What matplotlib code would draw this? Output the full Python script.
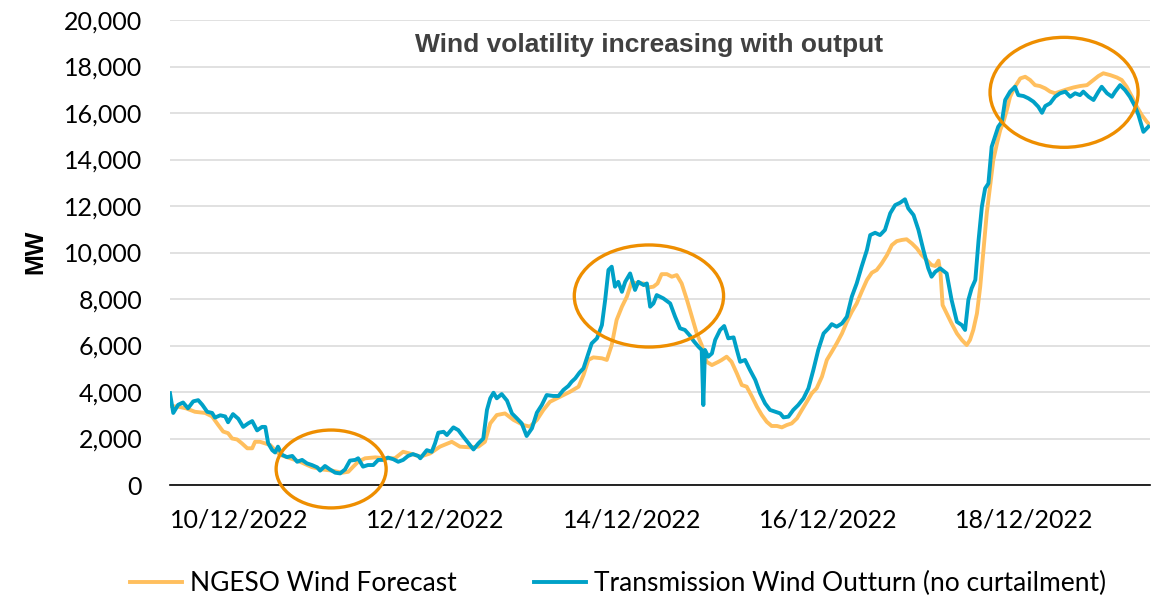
"""Wind forecast vs transmission outturn, 10-19 Dec 2022."""

import matplotlib

matplotlib.use("Agg")
import matplotlib.dates as mdates  # noqa: E402
import matplotlib.pyplot as plt  # noqa: E402
import pandas as pd  # noqa: E402
from matplotlib.patches import Ellipse  # noqa: E402
from matplotlib.ticker import FuncFormatter, MultipleLocator  # noqa: E402

BASE = pd.Timestamp("2022-12-10")

# hours relative to 10/12/2022 00:00, values in MW
FC_HOURS = [
    -16.9, -14.9, -13.0, -10.8, -8.3, -6.6, -5.1, -3.9, -2.7, -1.7, -0.5, 0.7,
    2.0, 3.2, 3.9, 5.1, 6.4, 7.6, 8.8, 10.0, 12.5, 14.9, 17.8, 20.3, 22.7,
    25.2, 26.7, 27.9, 29.1, 30.8, 33.3, 35.7, 38.1, 40.1, 42.3, 44.3, 46.7,
    49.1, 52.0, 54.0, 56.5, 58.5, 60.1, 61.4, 63.0, 65.0, 67.1, 69.5, 71.1,
    72.8, 74.4, 76.0, 78.5, 80.9, 83.0, 84.2, 85.4, 86.6, 88.7, 89.9, 91.1,
    92.3, 93.6, 94.8, 96.0, 97.2, 98.9, 100.1, 101.3, 102.3, 103.3, 104.6,
    105.8, 107.0, 108.2, 109.5, 110.7, 111.9, 113.1, 114.3, 115.6, 117.2,
    118.0, 119.2, 120.4, 121.7, 122.9, 124.1, 125.4, 126.6, 127.8, 129.0,
    130.2, 131.5, 132.7, 133.9, 135.1, 136.4, 137.6, 138.8, 140.0, 141.2,
    142.5, 143.7, 144.9, 146.1, 147.4, 148.6, 149.8, 151.0, 152.2, 153.5,
    154.7, 155.9, 157.1, 158.4, 159.6, 160.8, 162.0, 163.2, 164.5, 165.7,
    166.9, 168.1, 169.3, 170.2, 171.0, 171.5, 172.0, 173.0, 174.2, 175.5,
    176.7, 177.9, 178.7, 179.5, 180.4, 181.2, 182.0, 182.8, 183.6, 184.4,
    185.3, 186.1, 186.9, 187.7, 188.5, 189.7, 191.0, 192.2, 193.4, 194.6,
    195.8, 197.1, 198.3, 199.5, 200.7, 202.4, 204.0, 205.6, 207.3, 208.9,
    210.1, 211.3, 213.0, 214.6, 215.8, 217.0, 218.3, 219.5, 220.7, 221.9,
    222.7,
]
FC_MW = [
    3400, 3370, 3300, 3150, 3100, 2950, 2580, 2300, 2230, 2000, 1960, 1790,
    1580, 1580, 1860, 1860, 1790, 1720, 1500, 1300, 1150, 1000, 770, 670, 620,
    530, 570, 790, 1000, 1150, 1190, 1150, 1150, 1430, 1330, 1220, 1360,
    1650, 1860, 1650, 1620, 1650, 1860, 2650, 3010, 3080, 2800, 2580, 2510,
    2800, 3230, 3580, 3800, 4010, 4230, 4730, 5380, 5490, 5450, 5380, 6020,
    7100, 7670, 8100, 8740, 8670, 8670, 8500, 8530, 8670, 9070, 9070,
    8960, 9030, 8670, 7960, 7240, 6520, 6020, 5300, 5160, 5300,
    5380, 5520, 5300, 4800, 4300, 4230, 3800, 3370, 3010, 2720,
    2540, 2540, 2480, 2580, 2650, 2870, 3230, 3580, 3940, 4160,
    4660, 5380, 5730, 6090, 6520, 7020, 7450, 7810, 8310, 8820,
    9130, 9250, 9530, 9890, 10320, 10490, 10540, 10570, 10390, 10180,
    9890, 9680, 9460, 9420, 9650, 9100, 7740, 7380, 6950, 6520,
    6240, 6020, 6240, 6670, 7380, 8530, 10110, 11690, 12830, 13980,
    14700, 15270, 15630, 16130, 16700, 17130, 17490, 17560, 17420, 17200,
    17160, 17060, 16920, 16850, 16920, 17020, 17100, 17160, 17200, 17420,
    17590, 17710, 17630, 17530, 17420, 17130, 16700, 16270, 15910, 15630,
    15480,
]

OUT_HOURS = [
    -16.9, -16.1, -14.9, -13.7, -12.5, -11.2, -10.0, -9.0, -7.8, -6.6, -5.9,
    -4.6, -3.4, -2.7, -1.5, -0.2, 1.0, 2.2, 3.2, 4.4, 5.6, 6.4, 7.1, 8.1, 8.8,
    9.5, 10.5, 11.7, 13.0, 14.2, 15.4, 16.6, 17.8, 19.1, 19.8, 21.0, 22.2,
    23.5, 24.7, 25.9, 27.1, 28.4, 29.1, 30.3, 31.5, 32.8, 34.0, 35.2, 36.4,
    37.7, 38.9, 40.1, 41.3, 42.5, 43.8, 44.3, 45.9, 47.1, 47.9, 48.7, 50.0,
    50.8, 52.4, 53.6, 54.8, 56.1, 57.3, 58.5, 59.7, 60.6, 61.4, 62.2, 63.0,
    64.2, 65.5, 66.7, 67.9, 69.1, 70.3, 71.6, 72.8, 74.0, 75.2, 76.8, 78.1,
    79.3, 80.5, 81.3, 82.2, 83.2, 84.2, 85.4, 86.2, 87.5, 88.7, 89.5, 90.3,
    91.1, 91.9, 92.7, 93.6, 94.4, 95.6, 96.8, 97.6, 98.9, 99.7, 100.5, 101.3,
    102.1, 103.7, 105.4, 106.6, 107.8, 109.0, 110.3, 111.1, 112.3, 113.1,
    113.5, 113.9, 114.7, 115.6, 116.4, 117.6, 118.6, 119.6, 120.9, 121.7,
    122.5, 123.7, 124.9, 126.2, 127.4, 128.6, 129.8, 131.1, 132.3, 133.1,
    134.3, 135.5, 136.7, 138.0, 139.2, 140.4, 141.6, 142.9, 144.1, 144.9,
    146.1, 147.4, 148.6, 149.8, 151.0, 152.2, 153.5, 154.3, 155.5, 156.7,
    157.9, 159.2, 160.4, 161.6, 162.8, 163.6, 164.9, 166.1, 167.3, 168.5,
    169.3, 170.2, 171.4, 173.0, 174.2, 175.5, 176.7, 177.5, 178.3, 179.1,
    180.0, 180.8, 181.6, 182.4, 183.2, 184.0, 184.8, 185.6, 186.5, 187.3,
    188.5, 189.7, 190.5, 191.8, 193.0, 194.2, 195.4, 196.3, 197.1, 198.3,
    199.5, 200.7, 202.0, 203.2, 204.4, 205.6, 206.4, 207.7, 208.9, 210.1,
    210.9, 212.2, 213.4, 214.2, 215.4, 216.6, 217.8, 219.1, 219.9, 221.1,
    222.3,
]
OUT_MW = [
    3950, 3100, 3450, 3550, 3300, 3600, 3650, 3450, 3150, 3100, 2900,
    3000, 2950, 2700, 3050, 2850, 2500, 2650, 2750, 2350, 2500, 2500, 1800,
    1500, 1400, 1650, 1300, 1200, 1250, 1000, 1080, 930, 860, 760, 620, 820,
    670, 530, 500, 670, 1050, 1080, 1150, 790, 860, 860, 1080, 1080, 1180,
    1110, 1000, 1080, 1250, 1330, 1250, 1150, 1500, 1430, 1790, 2250, 2290,
    2150, 2480, 2360, 2080, 1790, 1530, 1790, 2000, 3230, 3730, 3970, 3730,
    3910, 3630, 3080, 2870, 2650, 2110, 2440, 3110, 3440, 3870, 3830, 3830,
    4090, 4260, 4440, 4590, 4830, 5020, 5660, 6090, 6310, 6880, 7960, 9250,
    9390, 8530, 8740, 8310, 8740, 9100, 8390, 8740, 8600, 8670, 7670, 7810,
    8170, 8030, 7810, 7240, 6740, 6670, 6410, 6200, 5950, 5810,
    3440, 5810, 5520, 5660, 6240, 6670, 6840, 6310, 6350, 5810,
    5300, 5380, 4950, 4520, 3940, 3510, 3230, 3150, 3080, 2910,
    2940, 3230, 3440, 3730, 4160, 4950, 5810, 6520, 6740, 6920,
    6810, 6950, 7240, 8100, 8670, 9390, 10110, 10750, 10850, 10750,
    10970, 11690, 12040, 12140, 12290, 11900, 11610, 10970, 10110, 9320,
    8960, 9170, 9320, 9100, 7960, 7020, 6880, 6670, 7960, 8460,
    8820, 10540, 11970, 12760, 12970, 14550, 14980, 15410, 15630, 16560,
    16920, 17130, 16770, 16730, 16630, 16490, 16270, 16010, 16300, 16420,
    16700, 16850, 16920, 16700, 16850, 16770, 16920, 16700, 16560, 16920,
    17130, 16850, 16700, 16920, 17200, 16990, 16700, 16270, 15910, 15190,
    15410,
]

# highlighted periods: centre hour, centre MW, width in hours, height in MW
HIGHLIGHTS = [
    (22.5, 690, 26.9, 3350),
    (100.2, 8130, 36.5, 4390),
    (201.7, 16890, 36.2, 4730),
]

TICK_DAYS = ["2022-12-10", "2022-12-12", "2022-12-14", "2022-12-16", "2022-12-18"]
X_RANGE_HOURS = (-16.9, 222.7)

FC_COLOR = "#FFBF5E"
OUT_COLOR = "#00A1C7"
RING_COLOR = "#EE8E00"


def to_dates(hours):
    return BASE + pd.to_timedelta(hours, unit="h")


def main():
    fig = plt.figure(figsize=(11.54, 5.96), dpi=100)
    ax = fig.add_axes([0.1473, 0.1862, 0.8492, 0.7802])

    ax.plot(to_dates(FC_HOURS), FC_MW, color=FC_COLOR, lw=2.8,
            label="NGESO Wind Forecast", solid_joinstyle="round")
    ax.plot(to_dates(OUT_HOURS), OUT_MW, color=OUT_COLOR, lw=2.8,
            label="Transmission Wind Outturn (no curtailment)",
            solid_joinstyle="round")

    for hour, mw, width, height in HIGHLIGHTS:
        centre = mdates.date2num(BASE + pd.Timedelta(hours=hour))
        ax.add_patch(Ellipse((centre, mw), width / 24, height, fill=False,
                             edgecolor=RING_COLOR, lw=2.4, clip_on=False,
                             zorder=5))

    lo, hi = to_dates(list(X_RANGE_HOURS))
    ax.set_xlim(lo, hi)
    ax.set_ylim(0, 20000)
    ax.yaxis.set_major_locator(MultipleLocator(2000))
    ax.yaxis.set_major_formatter(FuncFormatter(lambda v, _: f"{v:,.0f}"))
    ax.set_xticks(pd.to_datetime(TICK_DAYS))
    ax.xaxis.set_major_formatter(mdates.DateFormatter("%d/%m/%Y"))

    ax.grid(axis="y", color="#D9D9D9", lw=1.1)
    ax.set_axisbelow(True)
    for side in ("left", "right", "top"):
        ax.spines[side].set_visible(False)
    ax.spines["bottom"].set_color("black")
    ax.spines["bottom"].set_linewidth(1.2)
    ax.tick_params(length=0, labelsize=18)
    ax.tick_params(axis="y", pad=20)
    ax.tick_params(axis="x", pad=17)
    for lab in ax.get_xticklabels() + ax.get_yticklabels():
        lab.set_fontfamily("Lato")
        lab.set_color("black")

    ax.text(0.489, 0.946, "Wind volatility increasing with output",
            transform=ax.transAxes, ha="center", va="center",
            fontsize=19, fontweight="bold", color="#404040",
            fontfamily="Liberation Sans")
    fig.text(35 / 1154, 1 - 252 / 596, "MW", rotation=90, ha="center",
             va="center", fontsize=18, fontweight="bold",
             fontfamily="Liberation Sans")

    fig.legend(loc="center", bbox_to_anchor=(0.5355, 0.021), ncol=2,
               frameon=False, prop={"family": "Lato", "size": 19},
               handlelength=2.0, handletextpad=0.3, columnspacing=2.9)

    fig.savefig("out.png", dpi=100)


if __name__ == "__main__":
    main()
